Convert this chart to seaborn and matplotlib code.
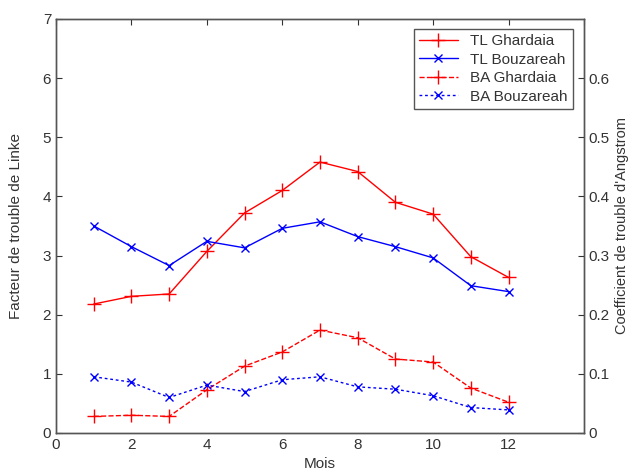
import numpy as np
import pandas as pd
import matplotlib
matplotlib.use("Agg")
import matplotlib.pyplot as plt
import seaborn as sns

# Données
mois = [1, 2, 3, 4, 5, 6, 7, 8, 9, 10, 11, 12]
tl_ghardaia = [2.18, 2.31, 2.35, 3.07, 3.72, 4.10, 4.58, 4.42, 3.90, 3.70, 2.98, 2.63]
tl_bouzareah = [3.50, 3.15, 2.83, 3.24, 3.13, 3.46, 3.57, 3.32, 3.15, 2.96, 2.49, 2.39]
ba_ghardaia = [0.028, 0.030, 0.028, 0.073, 0.113, 0.137, 0.174, 0.161, 0.125, 0.120, 0.076, 0.052]
ba_bouzareah = [0.095, 0.086, 0.060, 0.081, 0.070, 0.090, 0.095, 0.078, 0.074, 0.063, 0.043, 0.039]

sns.set_style("white")
plt.rcParams['font.family'] = ['Liberation Sans', 'DejaVu Sans']
plt.rcParams['font.size'] = 11
plt.rcParams['xtick.direction'] = 'in'
plt.rcParams['ytick.direction'] = 'in'

df_tl = pd.DataFrame({"Mois": mois, "TL Ghardaia": tl_ghardaia, "TL Bouzareah": tl_bouzareah})
df_ba = pd.DataFrame({"Mois": mois, "BA Ghardaia": ba_ghardaia, "BA Bouzareah": ba_bouzareah})

fig = plt.figure(figsize=(6.33, 4.73), dpi=100)
ax = fig.add_axes([0.0885, 0.0846, 0.834, 0.8754])
ax2 = ax.twinx()

sns.lineplot(data=df_tl, x="Mois", y="TL Ghardaia", ax=ax, color="red", marker="+",
             markersize=10, markeredgewidth=1, markeredgecolor="red", linewidth=1,
             label="TL Ghardaia", legend=False)
sns.lineplot(data=df_tl, x="Mois", y="TL Bouzareah", ax=ax, color="blue", marker="x",
             markersize=6, markeredgewidth=1, markeredgecolor="blue", linewidth=1,
             label="TL Bouzareah", legend=False)
sns.lineplot(data=df_ba, x="Mois", y="BA Ghardaia", ax=ax2, color="red", marker="+",
             markersize=10, markeredgewidth=1, markeredgecolor="red", linewidth=1,
             linestyle="--", label="BA Ghardaia", legend=False)
sns.lineplot(data=df_ba, x="Mois", y="BA Bouzareah", ax=ax2, color="blue", marker="x",
             markersize=6, markeredgewidth=1, markeredgecolor="blue", linewidth=1,
             label="BA Bouzareah", legend=False)
ax2.lines[-1].set_dashes([2, 2])

ax.set_xlim(0, 14)
ax.set_ylim(0, 7)
ax2.set_ylim(0, 0.7)
ax.set_xticks([0, 2, 4, 6, 8, 10, 12, 14])
ax.set_xticklabels(["0", "2", "4", "6", "8", "10", "12", ""])
ax.set_yticks(range(0, 8))
ax2.set_yticks([0, 0.1, 0.2, 0.3, 0.4, 0.5, 0.6])
ax2.set_yticklabels(["0", "0.1", "0.2", "0.3", "0.4", "0.5", "0.6"])
ax.tick_params(top=True, length=4, colors="#333333", labelsize=11)
ax2.tick_params(length=4, colors="#333333", labelsize=11)

for a in (ax, ax2):
    for s in a.spines.values():
        s.set_color("#555555")
        s.set_linewidth(1)

ax.set_xlabel("Mois", fontsize=11, color="#333333", labelpad=4)
ax.set_ylabel("Facteur de trouble de Linke", fontsize=11, color="#333333", labelpad=14)
ax2.set_ylabel("Coefficient de trouble d'Angstrom", fontsize=10.5, color="#333333", labelpad=4)

h1, lab1 = ax.get_legend_handles_labels()
h2, lab2 = ax2.get_legend_handles_labels()
leg = ax2.legend(h1 + h2, lab1 + lab2, loc="upper right", bbox_to_anchor=(0.993, 0.995),
                 fontsize=11, frameon=True, fancybox=False, framealpha=1, numpoints=1,
                 handlelength=2.5, borderpad=0.35, labelspacing=0.3)
leg.get_frame().set_edgecolor("#555555")
for t in leg.get_texts():
    t.set_color("#333333")

plt.savefig("out.png", dpi=100)
plt.close()
